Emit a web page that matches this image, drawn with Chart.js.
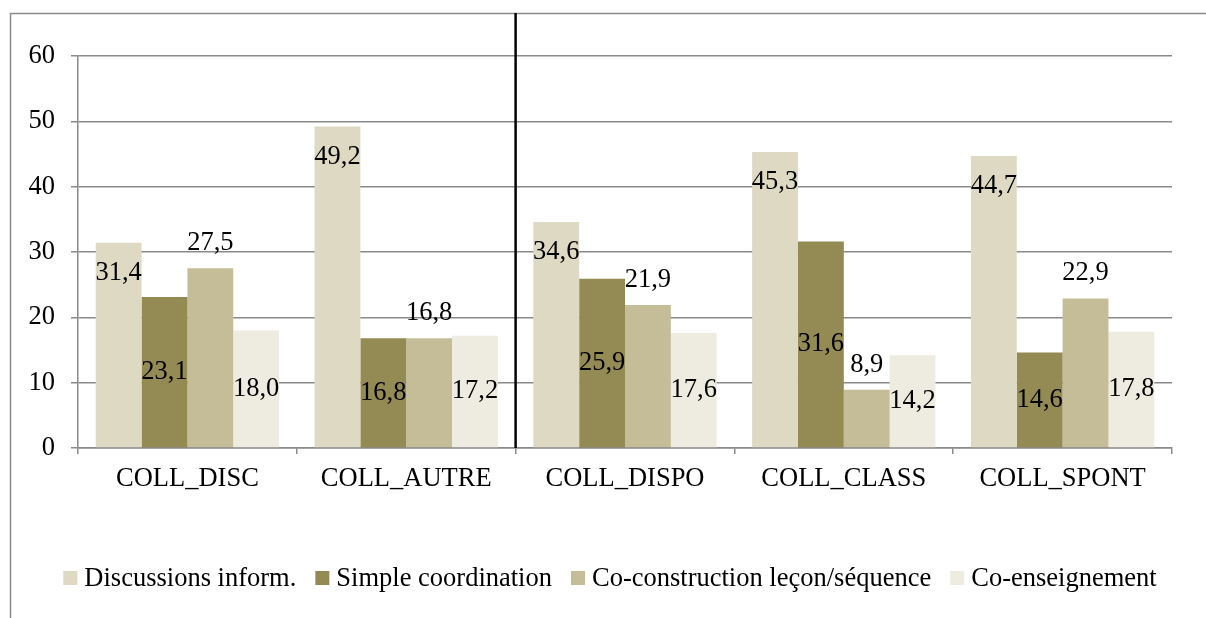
<!DOCTYPE html>
<html><head><meta charset="utf-8">
<script src="https://cdn.jsdelivr.net/npm/chart.js@4.4.0/dist/chart.umd.min.js"></script>
<style>html,body{margin:0;padding:0;background:#fff;}#wrap{position:relative;width:1206px;height:618px;}</style>
</head><body><div id="wrap"><canvas id="c" width="1206" height="618"></canvas></div>
<script>
const categories = ['COLL_DISC', 'COLL_AUTRE', 'COLL_DISPO', 'COLL_CLASS', 'COLL_SPONT'];
const seriesNames = ['Discussions inform.', 'Simple coordination', 'Co-construction leçon/séquence', 'Co-enseignement'];
const discussions = [31.4, 49.2, 34.6, 45.3, 44.7];
const simpleCoord = [23.1, 16.8, 25.9, 31.6, 14.6];
const coConstruction = [27.5, 16.8, 21.9, 8.9, 22.9];
const coEnseignement = [18.0, 17.2, 17.6, 14.2, 17.8];
const yTicks = [0, 10, 20, 30, 40, 50, 60];

const colors = ['#DDD9C3', '#948A54', '#C4BD97', '#EEECE1'];
const labelModes = ['insideEnd', 'center', 'outsideEnd', 'center'];
const FONT = "'Liberation Serif','Times New Roman',serif";
const FS = 26.5;
const GRID = '#8a8a8a';

const seriesValues = [discussions, simpleCoord, coConstruction, coEnseignement];

const decorPlugin = {
  id: 'decor',
  beforeDraw(chart) {
    const ctx = chart.ctx;
    ctx.save();
    ctx.strokeStyle = GRID;
    ctx.lineWidth = 1.5;
    ctx.beginPath();
    ctx.moveTo(10.5, 618);
    ctx.lineTo(10.5, 13.5);
    ctx.lineTo(1206, 13.5);
    ctx.stroke();
    ctx.restore();
  },
  afterDatasetsDraw(chart) {
    const ctx = chart.ctx;
    ctx.save();
    ctx.font = FS + 'px ' + FONT;
    ctx.fillStyle = '#000';
    ctx.textAlign = 'center';
    ctx.textBaseline = 'middle';
    chart.data.datasets.forEach((ds, di) => {
      const meta = chart.getDatasetMeta(di);
      meta.data.forEach((bar, i) => {
        const v = ds.data[i];
        const txt = v.toFixed(1).replace('.', ',');
        let y;
        if (ds.labelMode === 'insideEnd') y = bar.y + 30;
        else if (ds.labelMode === 'outsideEnd') y = bar.y - 25;
        else y = (bar.y + bar.base) / 2;
        ctx.fillText(txt, bar.x, y);
      });
    });
    ctx.restore();
  },
  afterDraw(chart) {
    const ctx = chart.ctx;
    const xs = chart.scales.x, ys = chart.scales.y;
    ctx.save();
    const px = xs.getPixelForValue(1.5);
    ctx.strokeStyle = '#000';
    ctx.lineWidth = 2.5;
    ctx.beginPath();
    ctx.moveTo(px, 13);
    ctx.lineTo(px, ys.getPixelForValue(0));
    ctx.stroke();
    // legend
    ctx.font = FS + 'px ' + FONT;
    ctx.textBaseline = 'middle';
    ctx.textAlign = 'left';
    const box = 14, gapText = 7, gapItem = 19;
    const widths = seriesNames.map(n => ctx.measureText(n).width);
    const total = widths.reduce((a, w) => a + box + gapText + w, 0) + gapItem * (seriesNames.length - 1);
    let x = 610 - total / 2;
    const cy = 578;
    seriesNames.forEach((n, i) => {
      ctx.fillStyle = colors[i];
      ctx.fillRect(x, cy - box / 2, box, box);
      ctx.fillStyle = '#000';
      ctx.fillText(n, x + box + gapText, cy + 1);
      x += box + gapText + widths[i] + gapItem;
    });
    ctx.restore();
  }
};

new Chart(document.getElementById('c'), {
  type: 'bar',
  data: {
    labels: categories,
    datasets: seriesNames.map((name, i) => ({
      label: name,
      data: seriesValues[i],
      backgroundColor: colors[i],
      borderWidth: 0,
      categoryPercentage: 0.838,
      barPercentage: 1.0,
      labelMode: labelModes[i]
    }))
  },
  options: {
    responsive: false,
    animation: false,
    layout: { padding: { left: 0, right: 34, top: 56, bottom: 125 } },
    plugins: { legend: { display: false }, tooltip: { enabled: false } },
    scales: {
      x: {
        grid: { display: true, drawOnChartArea: false, drawTicks: true, tickLength: 6, color: GRID, lineWidth: 1.5, offset: true },
        border: { display: true, color: GRID, width: 1.5 },
        ticks: { font: { family: FONT, size: FS }, color: '#000', padding: 9, maxRotation: 0 },
        afterFit(scale) { scale.height = 45; }
      },
      y: {
        min: 0, max: 60,
        afterBuildTicks(scale) { scale.ticks = yTicks.map(v => ({ value: v })); },
        grid: { color: GRID, lineWidth: 1.5, tickLength: 7, drawTicks: true },
        border: { display: true, color: GRID, width: 1.5 },
        ticks: { font: { family: FONT, size: FS }, color: '#000', padding: 16 },
        afterFit(scale) { scale.width = 78; }
      }
    }
  },
  plugins: [decorPlugin]
});
</script>
</body></html>
